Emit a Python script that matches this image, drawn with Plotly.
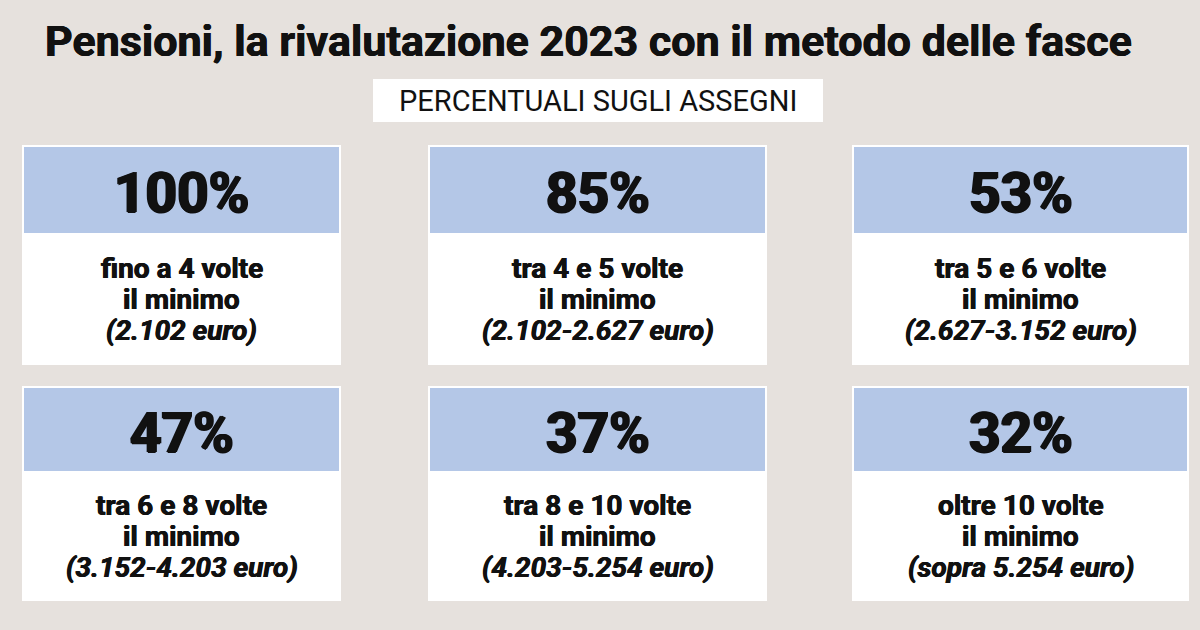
import plotly.graph_objects as go

# ---- data ----
title = "Pensioni, la rivalutazione 2023 con il metodo delle fasce"
subtitle = "PERCENTUALI SUGLI ASSEGNI"
percentuali = [100, 85, 53, 47, 37, 32]
fasce = ["fino a 4 volte", "tra 4 e 5 volte", "tra 5 e 6 volte",
         "tra 6 e 8 volte", "tra 8 e 10 volte", "oltre 10 volte"]
riferimento = ["il minimo"] * 6
importi = ["(2.102 euro)", "(2.102-2.627 euro)", "(2.627-3.152 euro)",
           "(3.152-4.203 euro)", "(4.203-5.254 euro)", "(sopra 5.254 euro)"]

# ---- layout constants ----
W, H = 1200, 630
BG = "#e6e1dd"
BLUE = "#b4c7e7"
INK = "#111111"
col_left = [22, 428, 852]
col_right = [341, 767, 1189]
row_top = [145, 386]
row_head = [233, 471]
row_bottom = [365, 601]
LINE = 31

fig = go.Figure()
shapes = []
annotations = []

# title
annotations.append(dict(x=588, y=41, text=f"<b>{title}</b>", showarrow=False,
                        xanchor="center", yanchor="middle",
                        font=dict(family="Roboto, Arial", size=43, color=INK,
                                  shadow="0.4px 0 0 #111, -0.4px 0 0 #111")))
# subtitle box
shapes.append(dict(type="rect", x0=373, x1=823, y0=79, y1=122,
                   fillcolor="white", line=dict(width=0), layer="below"))
annotations.append(dict(x=598, y=101, text=subtitle, showarrow=False,
                        xanchor="center", yanchor="middle",
                        font=dict(family="Roboto, Arial", size=29, color=INK)))

for i, p in enumerate(percentuali):
    r, c = divmod(i, 3)
    x0, x1 = col_left[c], col_right[c]
    y0, yh, y1 = row_top[r], row_head[r], row_bottom[r]
    xc = (x0 + x1) / 2
    shapes.append(dict(type="rect", x0=x0, x1=x1, y0=y0, y1=y1,
                       fillcolor="white", line=dict(width=0), layer="below"))
    shapes.append(dict(type="rect", x0=x0 + 2, x1=x1 - 2, y0=y0 + 2, y1=yh,
                       fillcolor=BLUE, line=dict(width=0), layer="below"))
    annotations.append(dict(x=xc, y=(y0 + yh) / 2 + 4, text=f"<b>{p}%</b>",
                            showarrow=False, xanchor="center", yanchor="middle",
                            font=dict(family="Roboto, Arial", size=55, color=INK,
                                      shadow="1.2px 0 0 #111, -1.2px 0 0 #111, 0 1px 0 #111")))
    yc = (yh + y1) / 2
    lines = [f"<b>{fasce[i]}</b>", f"<b>{riferimento[i]}</b>", f"<b><i>{importi[i]}</i></b>"]
    for k, t in enumerate(lines):
        annotations.append(dict(x=xc, y=yc + (k - 1) * LINE, text=t, showarrow=False,
                                xanchor="center", yanchor="middle",
                                font=dict(family="Roboto, Arial", size=28, color=INK,
                                          shadow="0.4px 0 0 #111, -0.4px 0 0 #111")))

fig.update_layout(
    width=W, height=H, margin=dict(l=0, r=0, t=0, b=0),
    paper_bgcolor=BG, plot_bgcolor=BG, showlegend=False,
    xaxis=dict(range=[0, W], visible=False, fixedrange=True),
    yaxis=dict(range=[H, 0], visible=False, fixedrange=True),
    shapes=shapes, annotations=annotations,
)
fig.write_html("out.html", config={"displayModeBar": False, "staticPlot": True},
               post_script="document.body.style.margin='0';document.body.style.background='%s';" % BG)
